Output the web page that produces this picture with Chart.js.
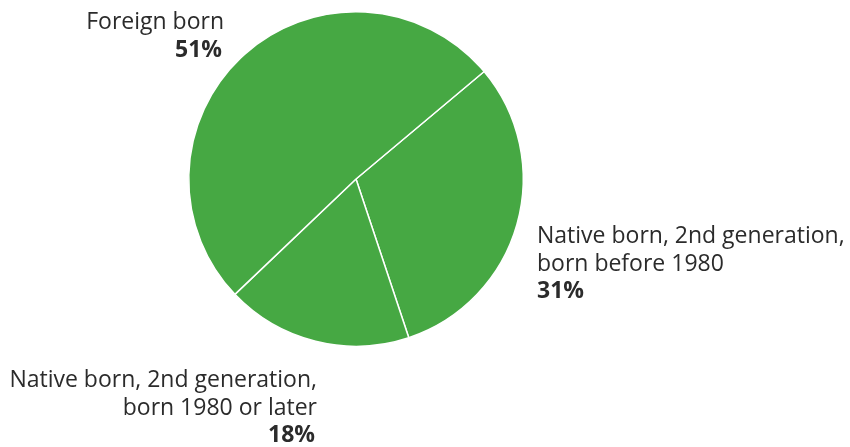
<!DOCTYPE html>
<html>
<head>
<meta charset="utf-8">
<script src="https://cdn.jsdelivr.net/npm/chart.js@4"></script>
<style>
  html, body { margin: 0; padding: 0; background: #fff; }
  #wrap { width: 850px; height: 447px; }
</style>
</head>
<body>
<div id="wrap"><canvas id="pieChart" width="850" height="447"></canvas></div>
<script>
var categories = [
  ["Native born, 2nd generation,", "born before 1980"],
  ["Native born, 2nd generation,", "born 1980 or later"],
  ["Foreign born"]
];
var shares = [31, 18, 51];

// where each label block sits, relative to the pie centre
var labelPlaces = [
  {align: "left",  dx: 181,  dy: 64},
  {align: "right", dx: -39,  dy: 208},
  {align: "right", dx: -132, dy: -150}
];

var sliceLabels = {
  id: "sliceLabels",
  afterDraw: function(chart) {
    var ctx = chart.ctx;
    var arcs = chart.getDatasetMeta(0).data;
    var lineH = 27.5;
    ctx.save();
    ctx.fillStyle = "#2b2b2b";
    ctx.textBaseline = "alphabetic";
    arcs.forEach(function(arc, i) {
      var p = labelPlaces[i];
      var x = arc.x + p.dx, y = arc.y + p.dy;
      ctx.textAlign = p.align;
      ctx.font = "23px 'Open Sans', sans-serif";
      categories[i].forEach(function(line, j) {
        ctx.fillText(line, x, y + j * lineH);
      });
      ctx.font = "bold 23px 'Open Sans', sans-serif";
      ctx.fillText(shares[i] + "%", x - (p.align === "right" ? 2 : 0), y + categories[i].length * lineH);
    });
    ctx.restore();
  }
};

var ctx = document.getElementById("pieChart").getContext("2d");
new Chart(ctx, {
  type: "pie",
  data: {
    labels: categories.map(function(c) { return c.join(" "); }),
    datasets: [{
      data: shares,
      backgroundColor: "#46a843",
      borderColor: "#ffffff",
      borderWidth: 1.5
    }]
  },
  options: {
    responsive: false,
    animation: false,
    rotation: 50,
    layout: {padding: {top: 11, bottom: 100, left: 188, right: 326}},
    plugins: {
      legend: {display: false},
      tooltip: {enabled: false}
    }
  },
  plugins: [sliceLabels]
});
</script>
</body>
</html>
